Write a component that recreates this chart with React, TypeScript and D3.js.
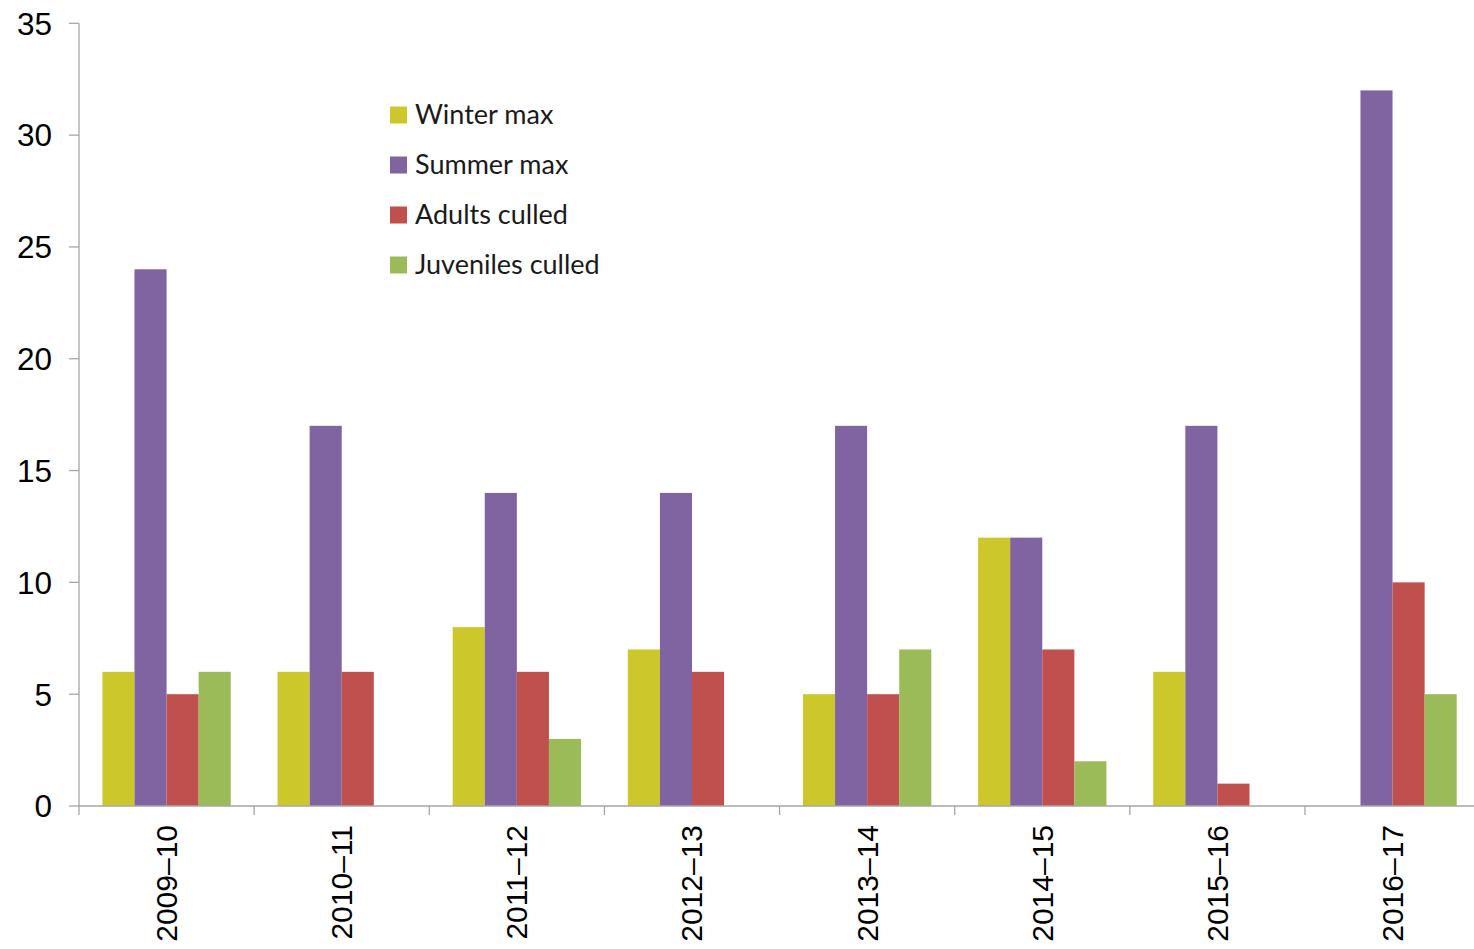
import React from "react";
import * as d3 from "d3";

const categories = ["2009–10", "2010–11", "2011–12", "2012–13", "2013–14", "2014–15", "2015–16", "2016–17"];
const seriesNames = ["Winter max", "Summer max", "Adults culled", "Juveniles culled"];
const seriesColors = ["#CCC72B", "#8064A2", "#C0504D", "#9BBB59"];
const winterMax = [6, 6, 8, 7, 5, 12, 6, 0];
const summerMax = [24, 17, 14, 14, 17, 12, 17, 32];
const adultsCulled = [5, 6, 6, 6, 5, 7, 1, 10];
const juvenilesCulled = [6, 0, 3, 0, 7, 2, 0, 5];
const yTicks = [0, 5, 10, 15, 20, 25, 30, 35];

const seriesValues = [winterMax, summerMax, adultsCulled, juvenilesCulled];

export default function App() {
  const W = 1474, H = 949;
  const x0Left = 79, step = 175.14;
  const x0 = d3.scaleBand<string>().domain(categories).range([x0Left, x0Left + step * categories.length]).padding(0);
  const groupPad = 23.4;
  const x1 = d3.scaleBand<string>().domain(seriesNames).range([groupPad, step - groupPad]).padding(0);
  const y = d3.scaleLinear().domain([0, 35]).range([806, 23.3]);
  const font = "'Liberation Sans', Arial, sans-serif";
  const axisColor = "#A6A6A6";

  return (
    <svg width={W} height={H} style={{ position: "absolute", left: 0, top: 0, background: "#fff" }}>
      <rect x={0} y={0} width={W} height={H} fill="#fff" />
      {/* bars */}
      {categories.map((c, i) => (
        <g key={c} transform={`translate(${x0(c)},0)`}>
          {seriesNames.map((s, j) => {
            const v = seriesValues[j][i];
            if (!v) return null;
            return (
              <rect key={s} x={x1(s)} y={y(v)} width={x1.bandwidth()} height={y(0) - y(v)} fill={seriesColors[j]} />
            );
          })}
        </g>
      ))}
      {/* y axis */}
      <line x1={x0Left} x2={x0Left} y1={y(35)} y2={y(0)} stroke={axisColor} strokeWidth={1.3} />
      {yTicks.map((t) => (
        <g key={t}>
          <line x1={x0Left - 10} x2={x0Left} y1={y(t)} y2={y(t)} stroke={axisColor} strokeWidth={1.3} />
          <text x={52} y={y(t)} dy="0.36em" textAnchor="end" fontFamily={font} fontSize={31.5} fill="#000">{t}</text>
        </g>
      ))}
      {/* x axis */}
      <line x1={x0Left} x2={x0Left + step * categories.length} y1={y(0)} y2={y(0)} stroke={axisColor} strokeWidth={1.3} />
      {categories.map((c, i) => (
        <line key={"t" + c} x1={x0(c)} x2={x0(c)} y1={y(0)} y2={y(0) + 9} stroke={axisColor} strokeWidth={1.3} />
      ))}
      {categories.map((c) => {
        const cx = (x0(c) as number) + step / 2;
        return (
          <text key={"l" + c} transform={`translate(${cx + 10.5},${825}) rotate(-90)`} textAnchor="end" fontFamily={font} fontSize={30} fill="#000">{c}</text>
        );
      })}
      {/* legend */}
      {seriesNames.map((s, j) => (
        <g key={"lg" + s} transform={`translate(390,${115 + j * 50})`}>
          <rect x={0} y={-8.5} width={17} height={17} fill={seriesColors[j]} />
          <text x={25} y={0} dy="0.35em" fontFamily="Lato, 'Open Sans', sans-serif" fontSize={27} fill="#1a1a1a">{s}</text>
        </g>
      ))}
    </svg>
  );
}
